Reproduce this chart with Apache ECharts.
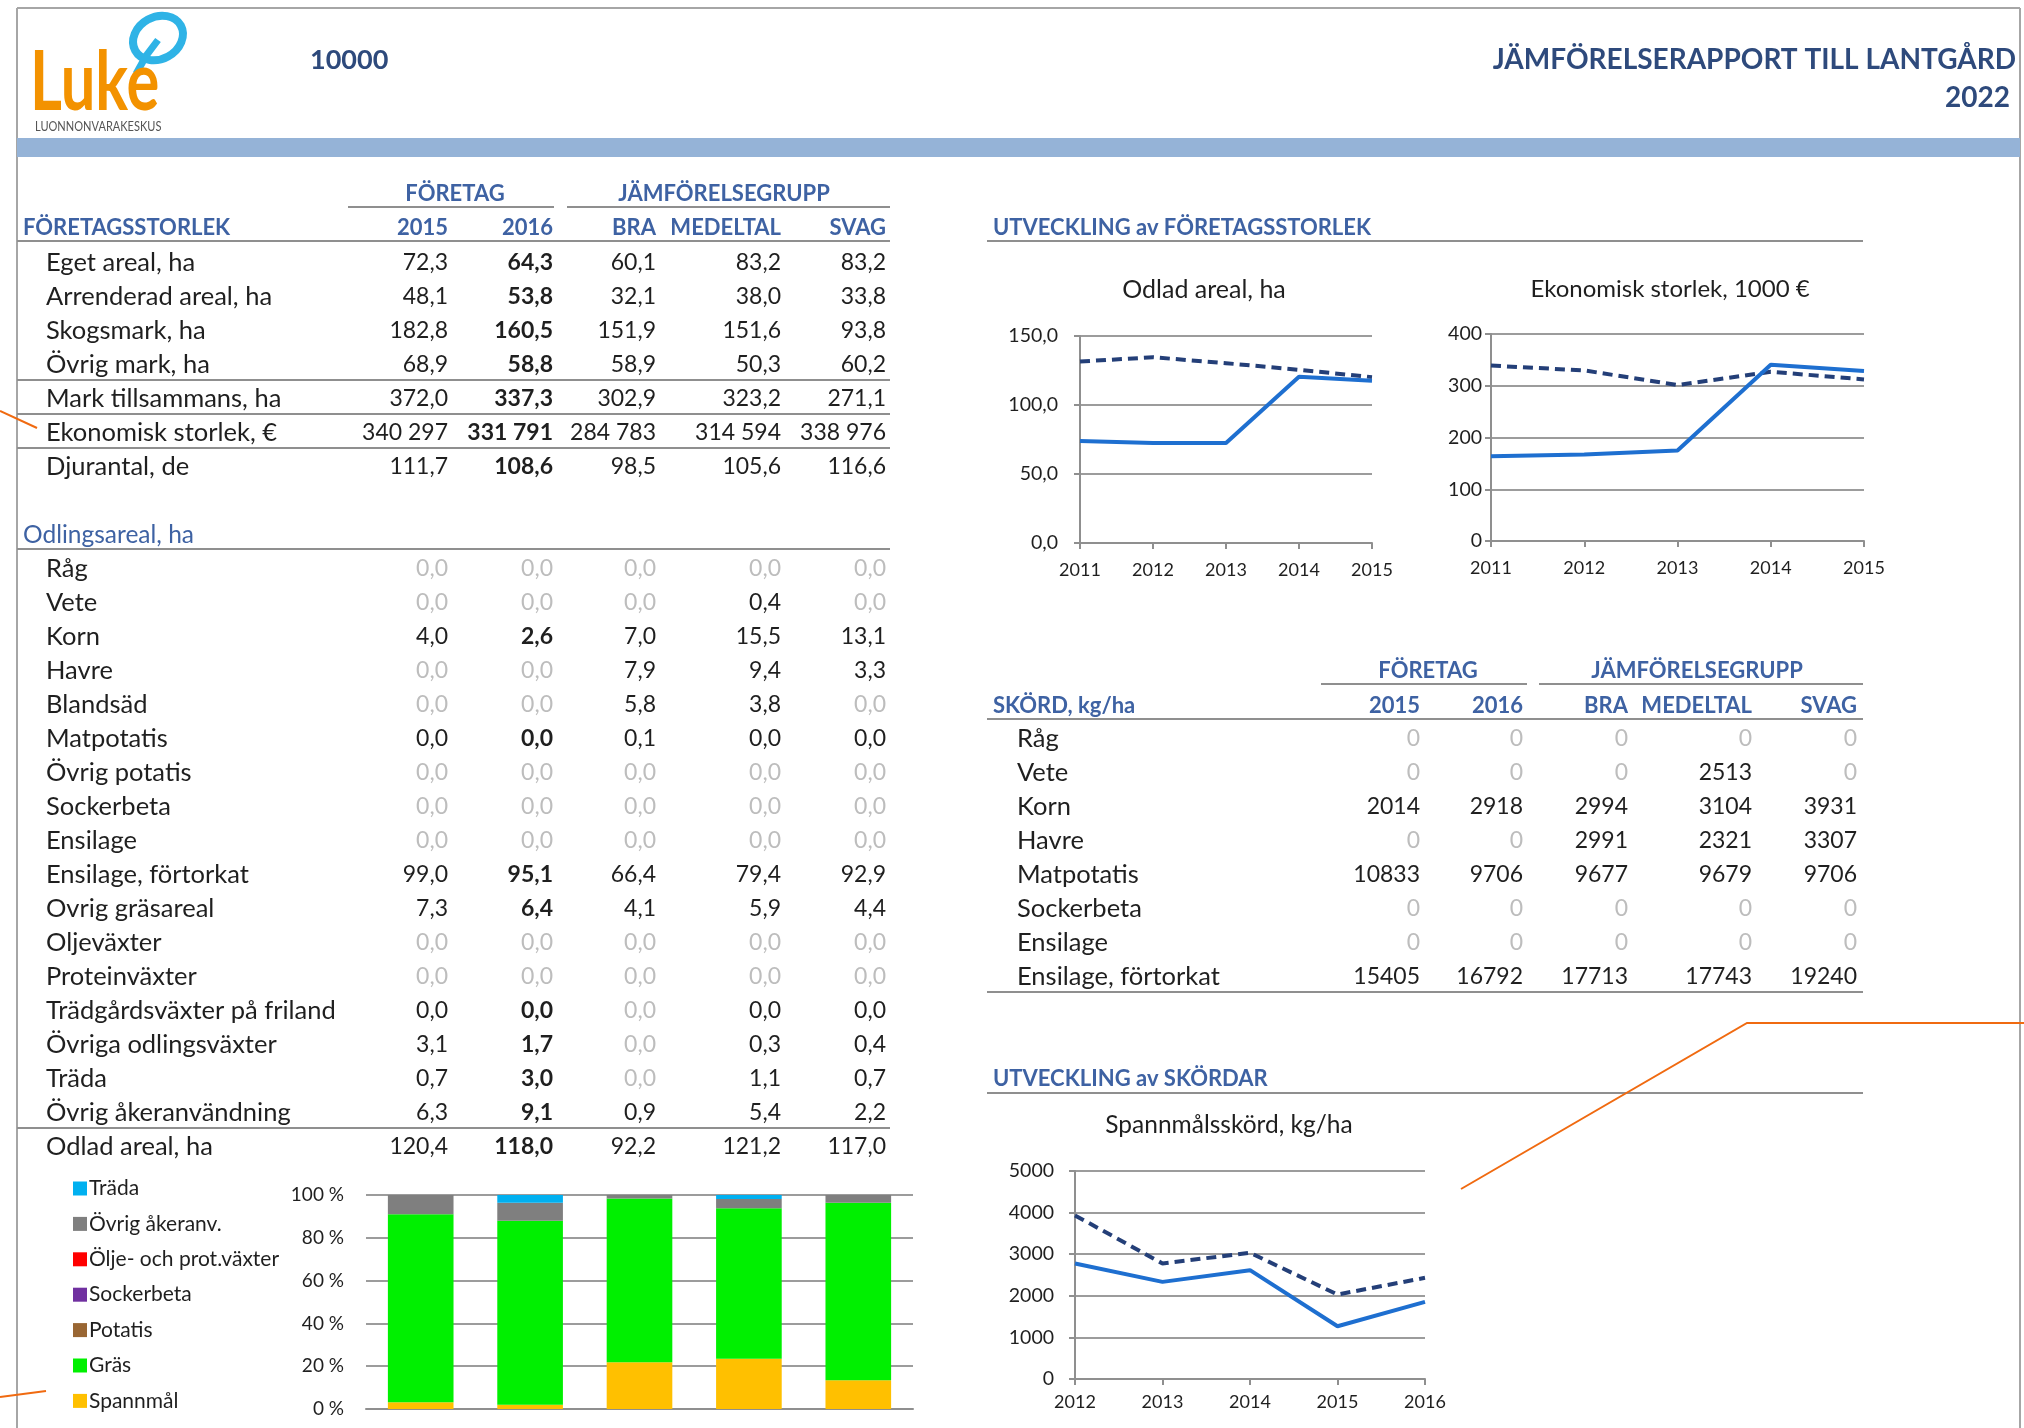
<!DOCTYPE html>
<html lang="sv">
<head>
    <meta charset="UTF-8">
    <title>Jämförelserapport till lantgård</title>
    <script src="https://cdn.jsdelivr.net/npm/echarts@6.0.0/dist/echarts.min.js"></script>
    <style>
        html, body { margin: 0; padding: 0; background: #ffffff; }
        #report { width: 2024px; height: 1428px; }
    </style>
</head>
<body>
    <div id="report"></div>
    <script>
        // ---- tabelldata ----
        const tableCols = ['2015', '2016', 'BRA', 'MEDELTAL', 'SVAG'];

        const sizeLabels = ['Eget areal, ha', 'Arrenderad areal, ha', 'Skogsmark, ha', 'Övrig mark, ha',
            'Mark tillsammans, ha', 'Ekonomisk storlek, €', 'Djurantal, de'];
        const sizeValues = [
            [72.3, 64.3, 60.1, 83.2, 83.2],
            [48.1, 53.8, 32.1, 38.0, 33.8],
            [182.8, 160.5, 151.9, 151.6, 93.8],
            [68.9, 58.8, 58.9, 50.3, 60.2],
            [372.0, 337.3, 302.9, 323.2, 271.1],
            [340297, 331791, 284783, 314594, 338976],
            [111.7, 108.6, 98.5, 105.6, 116.6]
        ];

        const cropLabels = ['Råg', 'Vete', 'Korn', 'Havre', 'Blandsäd', 'Matpotatis', 'Övrig potatis', 'Sockerbeta',
            'Ensilage', 'Ensilage, förtorkat', 'Ovrig gräsareal', 'Oljeväxter', 'Proteinväxter',
            'Trädgårdsväxter på friland', 'Övriga odlingsväxter', 'Träda', 'Övrig åkeranvändning'];
        // 0 = tom cell (grå), 0.01 = liten areal som visas som 0,0
        const cropValues = [
            [0, 0, 0, 0, 0],
            [0, 0, 0, 0.4, 0],
            [4.0, 2.6, 7.0, 15.5, 13.1],
            [0, 0, 7.9, 9.4, 3.3],
            [0, 0, 5.8, 3.8, 0],
            [0.01, 0.01, 0.1, 0.01, 0.01],
            [0, 0, 0, 0, 0],
            [0, 0, 0, 0, 0],
            [0, 0, 0, 0, 0],
            [99.0, 95.1, 66.4, 79.4, 92.9],
            [7.3, 6.4, 4.1, 5.9, 4.4],
            [0, 0, 0, 0, 0],
            [0, 0, 0, 0, 0],
            [0.01, 0.01, 0, 0.01, 0.01],
            [3.1, 1.7, 0, 0.3, 0.4],
            [0.7, 3.0, 0, 1.1, 0.7],
            [6.3, 9.1, 0.9, 5.4, 2.2]
        ];
        const cropTotal = [120.4, 118.0, 92.2, 121.2, 117.0];

        const yieldLabels = ['Råg', 'Vete', 'Korn', 'Havre', 'Matpotatis', 'Sockerbeta', 'Ensilage', 'Ensilage, förtorkat'];
        const yieldValues = [
            [0, 0, 0, 0, 0],
            [0, 0, 0, 2513, 0],
            [2014, 2918, 2994, 3104, 3931],
            [0, 0, 2991, 2321, 3307],
            [10833, 9706, 9677, 9679, 9706],
            [0, 0, 0, 0, 0],
            [0, 0, 0, 0, 0],
            [15405, 16792, 17713, 17743, 19240]
        ];

        // ---- diagramdata ----
        const devYears = ['2011', '2012', '2013', '2014', '2015'];
        const areaFarm = [73.9, 72.5, 72.5, 120.5, 117.6];
        const areaGroup = [131.5, 134.6, 130.3, 125.5, 120.2];
        const econFarm = [163.8, 167.0, 174.7, 340.5, 328.3];
        const econGroup = [339.0, 329.6, 301.4, 327.0, 312.3];

        const grainYears = ['2012', '2013', '2014', '2015', '2016'];
        const grainFarm = [2777, 2335, 2616, 1268, 1854];
        const grainGroup = [3933, 2777, 3034, 2031, 2432];

        const shareCats = ['2015', '2016', 'BRA', 'MEDELTAL', 'SVAG'];
        const shareNames = ['Spannmål', 'Gräs', 'Potatis', 'Sockerbeta', 'Ölje- och prot.växter', 'Övrig åkeranv.', 'Träda'];
        const shareValues = [
            [3.1, 2.0, 21.8, 23.5, 13.4],
            [87.9, 86.0, 76.6, 70.3, 83.0],
            [0, 0, 0, 0, 0],
            [0, 0, 0, 0, 0],
            [0, 0, 0, 0, 0],
            [9.0, 8.4, 1.6, 4.3, 3.6],
            [0, 3.6, 0, 1.9, 0]
        ];

        // ---- stil ----
        const FONT = 'Lato, "Noto Sans", sans-serif';
        const HEAD = '#3E62A3';
        const TITLE = '#2E4A7C';
        const INK = '#1F1F1F';
        const ZERO = '#BDBDBD';
        const RULE = '#8F8F8F';
        const ORANGE = '#F06A10';
        const shareColors = ['#FFC000', '#00F000', '#996633', '#7030A0', '#FF0000', '#7F7F7F', '#00B0F0'];

        const fmt1 = v => v.toFixed(1).replace('.', ',');
        const fmtSpace = v => String(Math.round(v)).replace(/\B(?=(\d{3})+(?!\d))/g, ' ');

        const g = [];
        function addText(x, y, str, opt) {
            opt = opt || {};
            g.push({
                type: 'text', x: x, y: y + 2, silent: true,
                scaleX: opt.scaleX || 1,
                style: {
                    text: str,
                    fill: opt.color || INK,
                    fontSize: opt.size || 23,
                    fontFamily: FONT,
                    fontWeight: opt.weight || 'normal',
                    align: opt.align || 'left',
                    verticalAlign: 'middle'
                }
            });
        }
        function addLine(x1, y1, x2, y2, color, w) {
            g.push({ type: 'line', silent: true, shape: { x1: x1, y1: y1, x2: x2, y2: y2 },
                style: { stroke: color || RULE, lineWidth: w || 2 } });
        }
        function addCell(x, y, str, v, bold) {
            addText(x, y, str, { align: 'right', color: v === 0 ? ZERO : INK, weight: (bold && v !== 0) ? 'bold' : 'normal' });
        }
        const label = (x, y, s) => addText(x, y, s, { size: 25.5 });
        const head = (x, y, s, align) => addText(x, y, s, { color: HEAD, weight: 'bold', size: 22, align: align || 'left' });

        // ram, logga och rubrik
        addLine(17, 8, 2020, 8, '#A6A6A6', 2);
        addLine(17, 8, 17, 1428, '#A6A6A6', 2);
        addLine(2020, 8, 2020, 1428, '#A6A6A6', 2);
        g.push({ type: 'rect', silent: true, shape: { x: 17, y: 138, width: 2003, height: 19 }, style: { fill: '#95B3D7' } });

        g.push({ type: 'ellipse', silent: true, x: 158, y: 38, rotation: 0.5,
            shape: { cx: 0, cy: 0, rx: 26, ry: 21 }, style: { fill: 'none', stroke: '#2FB3E6', lineWidth: 8 } });
        g.push({ type: 'polyline', silent: true, shape: { points: [[158, 40], [146, 56], [136, 74]] },
            style: { stroke: '#2FB3E6', lineWidth: 7, fill: 'none' } });
        addText(30, 82, 'Luke', { color: '#F39200', size: 82, weight: 'bold', scaleX: 0.75 });
        addText(35, 125, 'LUONNONVARAKESKUS', { color: '#555555', size: 13, scaleX: 0.85 });

        addText(310, 58, '10000', { color: TITLE, weight: 'bold', size: 27 });
        addText(2016, 58, 'JÄMFÖRELSERAPPORT TILL LANTGÅRD', { color: TITLE, weight: 'bold', size: 28, align: 'right' });
        addText(2010, 96, '2022', { color: TITLE, weight: 'bold', size: 28, align: 'right' });

        // vänster tabell
        const ROW = 34;
        const leftColX = [448, 553, 656, 781, 886];
        head(455, 192, 'FÖRETAG', 'center');
        head(724, 192, 'JÄMFÖRELSEGRUPP', 'center');
        addLine(348, 207, 554, 207);
        addLine(567, 207, 890, 207);
        head(23, 226, 'FÖRETAGSSTORLEK');
        tableCols.forEach((c, i) => head(leftColX[i], 226, c, 'right'));
        addLine(17, 241, 890, 241);
        sizeLabels.forEach((lab, r) => {
            const y = 261 + r * ROW;
            label(46, y, lab);
            sizeValues[r].forEach((v, c) => addCell(leftColX[c], y, r === 5 ? fmtSpace(v) : fmt1(v), v, c === 1));
        });
        addLine(17, 380, 890, 380);
        addLine(17, 414, 890, 414);
        addLine(17, 448, 890, 448);

        addText(23, 533, 'Odlingsareal, ha', { color: HEAD, size: 24.5 });
        addLine(17, 549, 890, 549);
        cropLabels.forEach((lab, r) => {
            const y = 567 + r * ROW;
            label(46, y, lab);
            cropValues[r].forEach((v, c) => addCell(leftColX[c], y, fmt1(v), v, c === 1));
        });
        const totY = 567 + cropLabels.length * ROW;
        addLine(17, totY - 17, 890, totY - 17);
        label(46, totY, 'Odlad areal, ha');
        cropTotal.forEach((v, c) => addCell(leftColX[c], totY, fmt1(v), v, c === 1));

        // höger sida
        head(993, 226, 'UTVECKLING av FÖRETAGSSTORLEK');
        addLine(987, 241, 1863, 241);
        addText(1204, 288, 'Odlad areal, ha', { size: 25, align: 'center' });
        addText(1670, 287, 'Ekonomisk storlek, 1000 €', { size: 24, align: 'center' });

        const rightColX = [1420, 1523, 1628, 1752, 1857];
        head(1428, 669, 'FÖRETAG', 'center');
        head(1697, 669, 'JÄMFÖRELSEGRUPP', 'center');
        addLine(1321, 684, 1527, 684);
        addLine(1539, 684, 1863, 684);
        head(993, 704, 'SKÖRD, kg/ha');
        tableCols.forEach((c, i) => head(rightColX[i], 704, c, 'right'));
        addLine(987, 719, 1863, 719);
        yieldLabels.forEach((lab, r) => {
            const y = 737 + r * ROW;
            label(1017, y, lab);
            yieldValues[r].forEach((v, c) => addCell(rightColX[c], y, String(v), v, false));
        });
        addLine(987, 737 + yieldLabels.length * ROW - 17, 1863, 737 + yieldLabels.length * ROW - 17);

        head(993, 1077, 'UTVECKLING av SKÖRDAR');
        addLine(987, 1093, 1863, 1093);
        addText(1229, 1123, 'Spannmålsskörd, kg/ha', { size: 24.5, align: 'center' });

        // orange kommentarslinjer
        addLine(0, 411, 37, 428, ORANGE, 2);
        addLine(0, 1397, 46, 1391, ORANGE, 2);
        g.push({ type: 'polyline', silent: true, shape: { points: [[1461, 1189], [1747, 1023], [2024, 1023]] },
            style: { stroke: ORANGE, lineWidth: 2, fill: 'none' } });

        // ---- axlar ----
        const axisLine = { show: true, lineStyle: { color: RULE, width: 2 } };
        const gridLine = { show: true, lineStyle: { color: '#9C9C9C', width: 2 } };
        function catAxis(idx, data, margin) {
            return {
                gridIndex: idx, type: 'category', data: data, boundaryGap: false,
                axisLine: axisLine,
                axisTick: { show: true, length: 6, lineStyle: { color: RULE, width: 2 } },
                axisLabel: { interval: 0, color: INK, fontSize: 18, fontFamily: FONT, margin: margin },
                splitLine: { show: false }
            };
        }
        function valAxis(idx, max, step, margin, fmt) {
            return {
                gridIndex: idx, type: 'value', min: 0, max: max, interval: step,
                axisLine: axisLine,
                axisTick: { show: true, length: 6, lineStyle: { color: RULE, width: 2 } },
                axisLabel: { color: INK, fontSize: 19.5, fontFamily: FONT, margin: margin, formatter: fmt },
                splitLine: gridLine
            };
        }
        function lineSeries(idx, data, dashed) {
            return {
                type: 'line', xAxisIndex: idx, yAxisIndex: idx, data: data, symbol: 'none', silent: true,
                z: dashed ? 2 : 3,
                lineStyle: { color: dashed ? '#243F78' : '#1E6FD0', width: 4, type: dashed ? [10, 6] : 'solid' }
            };
        }

        const chart = echarts.init(document.getElementById('report'));
        chart.setOption({
            animation: false,
            backgroundColor: '#ffffff',
            textStyle: { fontFamily: FONT },
            grid: [
                { left: 1080, top: 336, width: 292, height: 207 },
                { left: 1491, top: 334, width: 373, height: 207 },
                { left: 1075, top: 1171, width: 350, height: 208 },
                { left: 366, top: 1195, width: 547, height: 214 }
            ],
            legend: {
                orient: 'vertical', left: 68, top: 1173, icon: 'rect', itemWidth: 14, itemHeight: 14, itemGap: 14.4,
                selectedMode: false, data: shareNames.slice().reverse(),
                textStyle: { color: INK, fontSize: 21, lineHeight: 18, fontFamily: FONT, padding: [0, 0, 0, -3] }
            },
            xAxis: [
                catAxis(0, devYears, 18),
                catAxis(1, devYears, 18),
                catAxis(2, grainYears, 14),
                {
                    gridIndex: 3, type: 'category', data: shareCats,
                    axisLine: axisLine, axisTick: { show: false }, axisLabel: { show: false }
                }
            ],
            yAxis: [
                valAxis(0, 150, 50, 22, v => v.toFixed(1).replace('.', ',')),
                valAxis(1, 400, 100, 9, v => String(v)),
                valAxis(2, 5000, 1000, 21, v => String(v)),
                {
                    gridIndex: 3, type: 'value', min: 0, max: 100, interval: 20,
                    axisLine: { show: false }, axisTick: { show: false },
                    axisLabel: { color: INK, fontSize: 19, fontFamily: FONT, margin: 22, formatter: '{value} %' },
                    splitLine: gridLine
                }
            ],
            series: [
                lineSeries(0, areaGroup, true),
                lineSeries(0, areaFarm, false),
                lineSeries(1, econGroup, true),
                lineSeries(1, econFarm, false),
                lineSeries(2, grainGroup, true),
                lineSeries(2, grainFarm, false)
            ].concat(shareNames.map((name, i) => ({
                type: 'bar', name: name, stack: 'andel', xAxisIndex: 3, yAxisIndex: 3,
                data: shareValues[i], barWidth: '60%', silent: true,
                itemStyle: { color: shareColors[i] }
            }))),
            graphic: g
        });
    </script>
</body>
</html>
